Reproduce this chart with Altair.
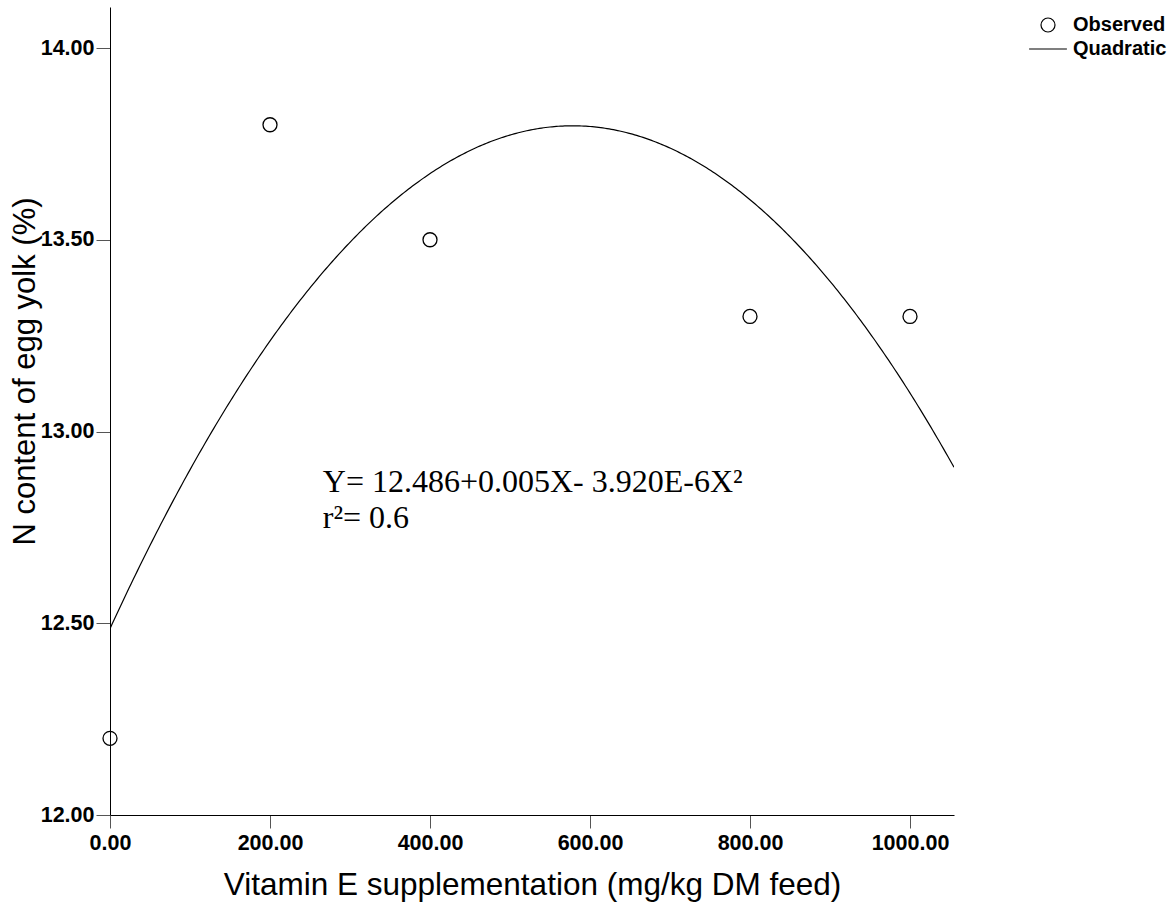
import altair as alt
import numpy as np
import pandas as pd

# Observed N content of egg yolk at each vitamin E level
dose = [0, 200, 400, 800, 1000]
n_content = [12.2, 13.8, 13.5, 13.3, 13.3]

# Quadratic fit coefficients: intercept, linear, quadratic
coef = [12.486, 0.0045343, -3.920e-6]

x_ticks = [0, 200, 400, 600, 800, 1000]
y_ticks = [12.0, 12.5, 13.0, 13.5, 14.0]
x_max = 1055
y_min, y_max = 12.0, 14.107

eq_lines = ["Y= 12.486+0.005X- 3.920E-6X²", "r²= 0.6"]
eq_x = [266, 266]
eq_y = [12.842, 12.748]

obs = pd.DataFrame({"dose": dose, "n": n_content, "series": "Observed"})
xs = np.linspace(0, x_max, 400)
fit = pd.DataFrame({"dose": xs, "n": coef[0] + coef[1] * xs + coef[2] * xs ** 2})
eq = pd.DataFrame({"dose": eq_x, "n": eq_y, "label": eq_lines})

x_enc = alt.X(
    "dose:Q",
    scale=alt.Scale(domain=[0, x_max], nice=False, zero=False),
    axis=alt.Axis(
        values=x_ticks, format=".2f",
        title="Vitamin E supplementation (mg/kg DM feed)",
        titleFontSize=31.5, titleFontWeight="normal", titlePadding=16,
        labelFontSize=21.5, labelFontWeight="bold", labelPadding=4,
        tickSize=13, labelFlush=False,
    ),
)
y_enc = alt.Y(
    "n:Q",
    scale=alt.Scale(domain=[y_min, y_max], nice=False, zero=False),
    axis=alt.Axis(
        values=y_ticks, format=".2f",
        title="N content of egg yolk (%)",
        titleFontSize=31, titleFontWeight="normal",
        titleX=-76, titleY=364, titleAngle=270, titleAlign="center",
        titleBaseline="alphabetic",
        labelFontSize=21.5, labelFontWeight="bold", labelPadding=2,
        tickSize=14, labelFlush=False,
    ),
)

curve = alt.Chart(fit).mark_line(color="black", strokeWidth=1.2, clip=True).encode(
    x=x_enc, y=y_enc
)

points = alt.Chart(obs).mark_point(
    filled=False, color="black", size=196, strokeWidth=1.3, opacity=1
).encode(
    x="dose:Q",
    y="n:Q",
    shape=alt.Shape(
        "series:N",
        scale=alt.Scale(domain=["Observed", "Quadratic"], range=["circle", "M-2.7,0L2.7,0"]),
        legend=alt.Legend(
            title=None, orient="none", legendX=928, legendY=8,
            labelFont="Liberation Sans", labelFontSize=20, labelFontWeight="bold",
            labelColor="black", labelOffset=15, rowPadding=4,
            symbolSize=196, symbolStrokeColor="black", symbolFillColor="transparent",
            symbolStrokeWidth=1.2,
        ),
    ),
)

text = alt.Chart(eq).mark_text(
    font="Liberation Serif", fontSize=32, align="left", baseline="alphabetic", color="black"
).encode(x="dose:Q", y="n:Q", text="label:N")

chart = (
    alt.layer(curve, points, text)
    .properties(
        width=844, height=808,
        autosize=alt.AutoSizeParams(type="none"),
        padding={"left": 110, "top": 7, "right": 221, "bottom": 94},
        background="white",
    )
    .configure_view(stroke=None)
    .configure_axis(
        labelFont="Liberation Sans", titleFont="Liberation Sans",
        labelColor="black", titleColor="black",
        domainColor="black", domainWidth=1, tickColor="#555555", tickWidth=1,
        grid=False,
    )
)

chart.save("out.html", embed_options={"renderer": "svg", "actions": False})
